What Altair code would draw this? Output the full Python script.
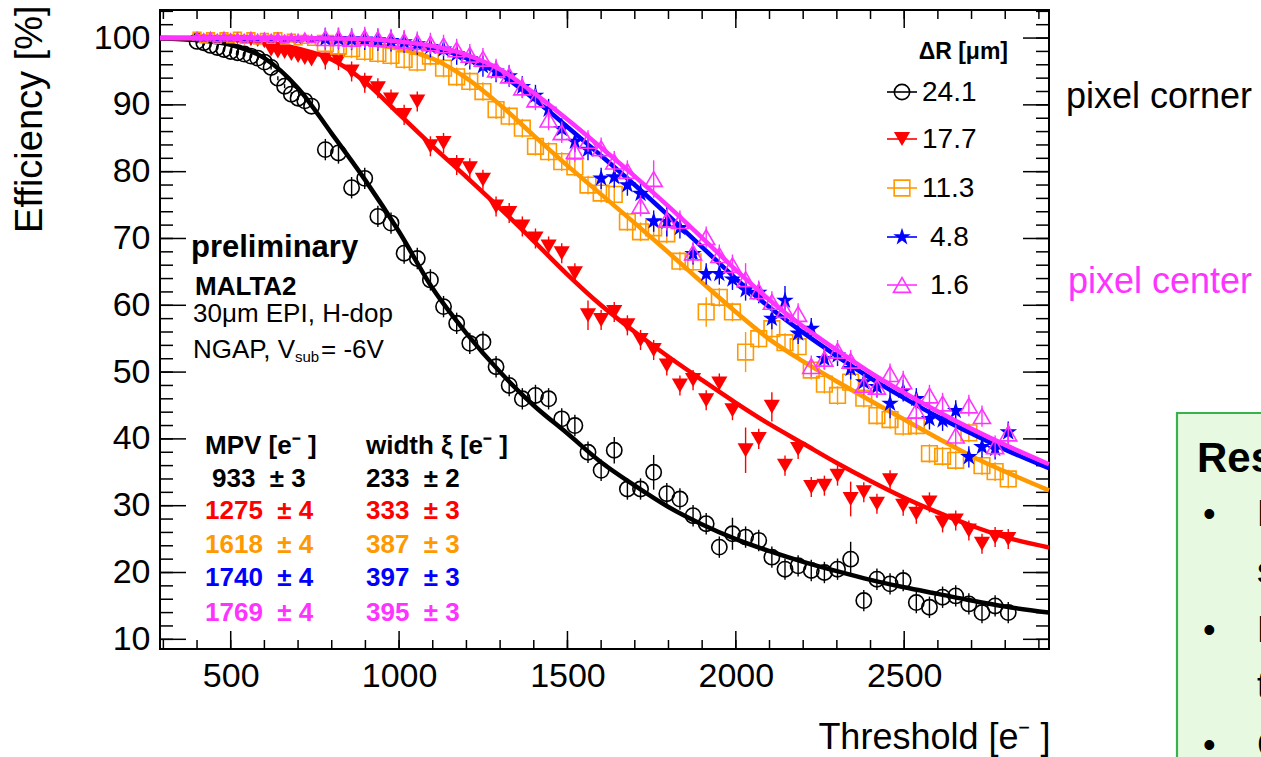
import altair as alt
import pandas as pd

FONT = "Liberation Sans"
W, H = 889, 639

# ---------------- data ----------------
SERIES = ["24.1", "17.7", "11.3", "4.8", "1.6"]
COLORS = {"24.1": "#000000", "17.7": "#ff0000", "11.3": "#ff9900",
          "4.8": "#0000ff", "1.6": "#ff33ff"}

X_SMALL = [400, 420, 440, 460, 480, 500, 520, 540, 560, 580, 600, 620,
           640, 660, 680, 700, 720, 740]
X_LARGE = [781, 820, 859, 898, 937, 976, 1015, 1054, 1093, 1132,
           1171, 1210, 1249, 1288, 1327, 1366, 1405, 1444, 1483, 1522,
           1561, 1600, 1639, 1678, 1717, 1756, 1795, 1834, 1873, 1912,
           1951, 1990, 2029, 2068, 2107, 2146, 2185, 2224, 2263, 2302,
           2341, 2380, 2419, 2458, 2497, 2536, 2575, 2614, 2653, 2692,
           2731, 2770, 2809]

EFF_SMALL = {
    "24.1": [99.5, 99.3, 98.9, 98.6, 98.3, 98.0, 97.8, 97.6, 97.3, 97.0, 96.4, 95.6,
             94.0, 92.8, 91.6, 91.0, 90.6, 89.8],
    "17.7": [99.9, 99.9, 99.9, 99.8, 99.8, 99.7, 99.6, 99.5, 99.3, 99.2, 99.0, 98.3,
             98.0, 97.9, 97.6, 97.3, 97.0, 96.8],
    "11.3": [100.3, 99.9, 100.2, 99.8, 100.2, 99.9, 100.3, 99.8, 100.2, 99.7, 100.1, 99.8,
             100.2, 99.7, 100.0, 99.6, 99.8, 99.5],
    "4.8": [100.0, 99.9, 100.0, 99.8, 100.0, 99.9, 100.0, 99.8, 99.9, 99.9, 100.0, 99.8,
            99.9, 99.8, 99.9, 99.7, 99.9, 99.8],
    "1.6": [100.3, 100.1, 100.3, 100.0, 100.3, 100.1, 100.2, 100.0, 100.3, 100.0, 100.2, 100.0,
            100.2, 99.9, 100.1, 100.0, 100.2, 99.9],
}

EFF_LARGE = {
    "24.1": [83.3, 82.8, 77.6, 79.0, 73.3, 72.3, 67.8, 67.0, 63.8, 59.8,
             57.3, 54.3, 54.5, 50.8, 48.0, 46.0, 46.5, 46.0, 43.0, 42.0,
             38.0, 35.3, 38.3, 32.5, 32.5, 35.0, 31.8, 31.0, 28.5, 27.3,
             23.8, 25.8, 25.3, 24.8, 22.3, 20.5, 21.0, 20.3, 20.0, 20.5,
             22.0, 15.8, 19.0, 18.3, 18.8, 15.5, 14.8, 16.3, 16.5, 15.3,
             14.0, 15.0, 14.0],
    "17.7": [96.8, 96.7, 95.0, 93.3, 92.5, 90.8, 88.5, 90.5, 83.8, 84.3,
             81.0, 80.5, 78.8, 74.8, 73.8, 71.8, 70.0, 68.8, 67.8, 64.8,
             58.5, 57.8, 59.0, 57.0, 54.8, 53.3, 51.0, 48.0, 48.8, 45.8,
             48.3, 44.3, 38.3, 40.0, 44.8, 36.0, 38.5, 32.8, 33.0, 34.5,
             31.0, 32.0, 30.3, 33.8, 30.0, 28.8, 30.5, 27.5, 27.8, 26.3,
             24.3, 25.3, 25.0],
    "11.3": [99.2, 98.8, 98.4, 98.0, 97.7, 97.4, 96.8, 96.4, 97.3, 95.5,
             94.2, 93.5, 92.0, 89.3, 88.3, 86.5, 83.8, 83.0, 81.5, 80.7,
             78.0, 76.8, 76.6, 72.5, 71.0, 71.6, 70.7, 66.6, 66.5, 59.0,
             61.2, 59.0, 53.0, 55.0, 56.5, 54.4, 53.8, 50.3, 48.2, 46.5,
             48.5, 46.1, 43.5, 42.9, 41.9, 42.0, 37.8, 37.4, 36.8, 40.9,
             36.0, 35.1, 34.0],
    "4.8": [99.9, 99.9, 99.8, 99.8, 99.7, 99.6, 99.4, 99.1, 98.7, 98.3,
            97.6, 96.9, 95.8, 95.0, 94.3, 92.7, 91.4, 89.3, 86.4, 84.5,
            83.3, 79.0, 79.2, 78.0, 76.7, 72.6, 72.5, 71.6, 67.7, 64.7,
            64.7, 63.9, 62.3, 61.9, 58.0, 60.7, 55.8, 56.5, 52.0, 52.5,
            50.5, 48.5, 47.8, 45.3, 47.2, 46.0, 43.0, 42.8, 44.2, 37.3,
            38.8, 38.5, 41.0],
    "1.6": [100.0, 100.0, 99.9, 100.1, 99.9, 99.8, 99.6, 99.4, 99.2, 98.9,
            98.3, 97.5, 96.9, 95.3, 94.4, 92.6, 90.8, 87.8, 85.9, 83.1,
            84.6, 83.5, 81.5, 80.1, 74.9, 78.9, 72.8, 72.6, 67.9, 70.2,
            67.5, 66.0, 63.9, 62.1, 60.5, 59.3, 58.7, 50.9, 52.0, 53.2,
            51.7, 48.1, 47.8, 49.7, 48.6, 44.2, 46.5, 45.3, 40.5, 45.0,
            43.4, 38.9, 40.8],
}

ERR_SMALL = 0.3
ERR_DEFAULT = {"24.1": 1.6, "17.7": 1.5, "11.3": 1.4, "4.8": 1.6, "1.6": 1.6}
ERR_OVERRIDE = {
    "24.1": {1756: 2.6, 1990: 2.4, 2341: 2.6, 1639: 2.0},
    "17.7": {2029: 3.4, 2341: 2.6, 1561: 2.2, 2107: 2.2},
    "11.3": {2029: 3.0, 1912: 2.2},
    "4.8": {1795: 2.2, 2146: 2.2, 2458: 2.2},
    "1.6": {1756: 2.8, 2536: 2.6, 2029: 2.4},
}

CURVE_X = [290, 400, 500, 600, 700, 800, 900, 1000, 1100, 1200, 1300, 1400, 1500,
           1600, 1700, 1800, 1900, 2000, 2100, 2200, 2300, 2400, 2500, 2600, 2700,
           2800, 2930]
CURVE_Y = {
    "24.1": [99.95, 99.7, 99.0, 97.0, 92.5, 85.7, 78.7, 71.0, 62.5, 55.8, 50.0, 45.0, 40.8,
             36.5, 33.0, 29.8, 27.2, 25.0, 23.2, 21.6, 20.2, 18.9, 17.8, 16.8, 15.8, 14.9, 14.0],
    "17.7": [100.0, 99.95, 99.8, 99.4, 98.4, 96.8, 93.4, 88.6, 83.8, 79.2, 74.5, 69.6, 64.6,
             60.0, 56.0, 52.3, 48.8, 45.4, 42.2, 39.3, 36.4, 33.7, 31.2, 29.0, 27.0, 25.3, 23.75],
    "11.3": [100.0, 100.0, 99.98, 99.95, 99.85, 99.6, 99.2, 98.4, 96.9, 94.0, 90.0, 85.4, 80.9,
             76.6, 72.3, 67.9, 63.4, 59.0, 54.9, 51.6, 48.6, 45.7, 42.9, 40.1, 37.4, 35.1, 32.3],
    "4.8": [100.0, 100.0, 100.0, 99.98, 99.95, 99.9, 99.75, 99.4, 98.6, 97.0, 94.6, 90.9, 86.7,
            82.4, 78.0, 73.4, 68.7, 64.0, 59.7, 55.9, 52.4, 49.1, 46.1, 43.3, 40.8, 38.4, 35.6],
    "1.6": [100.0, 100.0, 100.0, 100.0, 99.98, 99.95, 99.85, 99.5, 98.8, 97.5, 95.3, 91.8, 87.8,
            83.6, 79.3, 74.8, 70.1, 65.3, 60.8, 56.8, 53.3, 49.9, 46.9, 44.1, 41.5, 39.1, 36.2],
}

MPV = ["933", "1275", "1618", "1740", "1769"]
MPV_ERR = ["3", "4", "4", "4", "4"]
XI = ["233", "333", "387", "397", "395"]
XI_ERR = ["2", "3", "3", "3", "3"]

X_MAJOR = [500, 1000, 1500, 2000, 2500]
X_MINOR = list(range(300, 2901, 100))
Y_MAJOR = [10, 20, 30, 40, 50, 60, 70, 80, 90, 100]
Y_MINOR = list(range(10, 105, 2))

X_DOMAIN = [290, 2930]
Y_DOMAIN = [8.55, 104.2]

# ---------------- styling ----------------
STAR = ("M0,-1L0.224,-0.309L0.951,-0.309L0.363,0.118L0.588,0.809L0,0.382"
        "L-0.588,0.809L-0.363,0.118L-0.951,-0.309L-0.224,-0.309Z")
MARK = {
    "24.1": dict(shape="circle", filled=False, strokeWidth=1.6, size=235),
    "17.7": dict(shape="triangle-down", filled=True, strokeWidth=0, size=260),
    "11.3": dict(shape="square", filled=False, strokeWidth=1.6, size=245),
    "4.8": dict(shape=STAR, filled=True, strokeWidth=0, size=340),
    "1.6": dict(shape="triangle-up", filled=False, strokeWidth=1.6, size=290),
}
SMALL_SIZE = {"24.1": 235, "17.7": 70, "11.3": 60, "4.8": 90, "1.6": 70}
SMALL_LIMIT = {"24.1": 0, "17.7": 610, "11.3": 760, "4.8": 760, "1.6": 760}

XS = alt.Scale(domain=X_DOMAIN, nice=False, zero=False)
YS = alt.Scale(domain=Y_DOMAIN, nice=False, zero=False)

X_AXIS = alt.Axis(
    values=X_MAJOR, format="d", labelFont=FONT, labelFontSize=34, labelColor="black",
    ticks=False, tickSize=0, domain=False, grid=False, labelPadding=10,
    title="Threshold [e\u207b ]", titleFont=FONT, titleFontSize=36,
    titleFontWeight="normal", titleColor="black", titleAnchor="end",
    titleAlign="right", titleBaseline="middle", titleX=W + 1, titleY=88)
Y_AXIS = alt.Axis(
    values=Y_MAJOR, labelFont=FONT, labelFontSize=34, labelColor="black",
    ticks=False, tickSize=0, domain=False, grid=False, labelPadding=10,
    title="Efficiency [%]", titleFont=FONT, titleFontSize=38,
    titleFontWeight="normal", titleColor="black", titleAnchor="end",
    titleAngle=270, titleAlign="right", titleBaseline="middle",
    titleX=-130, titleY=-5)


def X(field):
    return alt.X(field, scale=XS, axis=X_AXIS)


def Y(field):
    return alt.Y(field, scale=YS, axis=Y_AXIS)


ONE = pd.DataFrame({"k": [0]})


def txt(s, x, y, size, color="black", weight="normal", align="left", baseline="alphabetic"):
    return alt.Chart(ONE).mark_text(
        text=s, align=align, baseline=baseline, font=FONT, fontSize=size,
        fontWeight=weight, color=color
    ).encode(x=alt.value(x), y=alt.value(y))


layers = []

# ---- inward ticks (ROOT style) ----
ymaj = pd.DataFrame({"v": Y_MAJOR})
xmaj = pd.DataFrame({"v": X_MAJOR})
ymin = pd.DataFrame({"v": Y_MINOR})
xmin = pd.DataFrame({"v": X_MINOR})

TK = dict(color="black", strokeWidth=1.5)
for df, L in ((ymaj, 26), (ymin, 13)):
    layers.append(alt.Chart(df).mark_rule(**TK).encode(
        y=Y("v:Q"), x=alt.value(0), x2=alt.value(L)))
    layers.append(alt.Chart(df).mark_rule(**TK).encode(
        y=Y("v:Q"), x=alt.value(W - L), x2=alt.value(W)))
for df, L in ((xmaj, 18), (xmin, 9)):
    layers.append(alt.Chart(df).mark_rule(**TK).encode(
        x=X("v:Q"), y=alt.value(0), y2=alt.value(L)))
    layers.append(alt.Chart(df).mark_rule(**TK).encode(
        x=X("v:Q"), y=alt.value(H - L), y2=alt.value(H)))

# ---- data series ----
for s in SERIES:
    col = COLORS[s]
    xs = X_SMALL + X_LARGE
    ys = EFF_SMALL[s] + EFF_LARGE[s]
    errs = [ERR_SMALL] * len(X_SMALL) + [ERR_OVERRIDE[s].get(x, ERR_DEFAULT[s]) for x in X_LARGE]
    df = pd.DataFrame({"x": xs, "y": ys, "e": errs})
    base = alt.Chart(df)
    layers.append(base.transform_calculate(
        lo="datum.y - datum.e", hi="datum.y + datum.e").mark_rule(
        color=col, strokeWidth=1.4).encode(
        x=X("x:Q"), y=Y("lo:Q"), y2="hi:Q"))
    m = MARK[s]
    common = dict(shape=m["shape"], filled=m["filled"], color=col, opacity=1,
                  strokeWidth=m["strokeWidth"])
    lim = SMALL_LIMIT[s]
    layers.append(base.transform_filter(alt.datum.x < lim).mark_point(
        size=SMALL_SIZE[s], **common).encode(x=X("x:Q"), y=Y("y:Q")))
    layers.append(base.transform_filter(alt.datum.x >= lim).mark_point(
        size=m["size"], **common).encode(x=X("x:Q"), y=Y("y:Q")))
    cdf = pd.DataFrame({"cx": CURVE_X, "cy": CURVE_Y[s]})
    layers.append(alt.Chart(cdf).mark_line(
        color=col, strokeWidth=4.5, interpolate="monotone").encode(
        x=X("cx:Q"), y=Y("cy:Q")))

# ---- legend (ROOT style, inside the frame) ----
LEG_Y = [82, 129, 178, 227, 275]
LEG_TX = [762, 762, 762, 770, 770]
layers.append(txt("\u0394R [\u03bcm]", 848, 42, 23, weight="bold", align="right", baseline="middle"))
for s, ly, tx in zip(SERIES, LEG_Y, LEG_TX):
    col = COLORS[s]
    m = MARK[s]
    layers.append(alt.Chart(ONE).mark_rule(color=col, strokeWidth=1.6).encode(
        x=alt.value(727), x2=alt.value(757), y=alt.value(ly)))
    layers.append(alt.Chart(ONE).mark_point(
        shape=m["shape"], filled=m["filled"], color=col, opacity=1,
        strokeWidth=m["strokeWidth"], size=m["size"]).encode(
        x=alt.value(742), y=alt.value(ly)))
    layers.append(txt(s, tx, ly + 1, 28, baseline="middle"))

# ---- annotation text ----
layers.append(txt("preliminary", 31, 247, 31, weight="bold"))
layers.append(txt("MALTA2", 35, 285, 26, weight="bold"))
layers.append(txt("30\u03bcm EPI, H-dop", 33, 312, 26))
layers.append(txt("NGAP, V", 33, 348, 26))
layers.append(txt("sub", 135, 352, 15))
layers.append(txt("= -6V", 161, 348, 26))

layers.append(txt("MPV [e\u207b ]", 45, 436, 26, weight="bold", baseline="middle"))
layers.append(txt("width \u03be [e\u207b ]", 206, 436, 26, weight="bold", baseline="middle"))
ROW_Y = [469, 501, 535, 568, 603]
for i, s in enumerate(SERIES):
    x0 = 52 if len(MPV[i]) == 3 else 45
    layers.append(txt(MPV[i] + "\u00a0\u00a0\u00b1 " + MPV_ERR[i], x0, ROW_Y[i], 26,
                      color=COLORS[s], weight="bold", baseline="middle"))
    layers.append(txt(XI[i] + "\u00a0\u00a0\u00b1 " + XI_ERR[i], 206, ROW_Y[i], 26,
                      color=COLORS[s], weight="bold", baseline="middle"))

# ---- slide annotations outside the frame ----
layers.append(txt("pixel corner", 906, 98, 36))
layers.append(txt("pixel center", 908, 283, 36, color="#ff33ff"))

layers.append(alt.Chart(ONE).mark_rect(fill="#e8f9e1", stroke="#37b24d", strokeWidth=2.2).encode(
    x=alt.value(1017), x2=alt.value(1160), y=alt.value(403), y2=alt.value(820)))
layers.append(txt("Results", 1037, 462, 42, weight="bold"))
layers.append(txt("\u2022", 1043, 516, 36))
layers.append(txt("Efficiency at pixel corner", 1097, 516, 36))
layers.append(txt("significantly lower", 1097, 573, 36))
layers.append(txt("\u2022", 1043, 632, 36))
layers.append(txt("Landau fit describes", 1097, 632, 36))
layers.append(txt("the data well", 1097, 688, 36))
layers.append(txt("\u2022", 1043, 747, 36))
layers.append(txt("Charge collection", 1097, 747, 36))

chart = alt.layer(*layers).properties(
    width=W, height=H,
    padding={"left": 160, "top": 10, "right": 212, "bottom": 108},
    autosize=alt.AutoSizeParams(type="none"),
    background="white",
).configure_view(stroke="black", strokeWidth=2)

chart.save("out.html", embed_options={"renderer": "svg", "actions": False})
